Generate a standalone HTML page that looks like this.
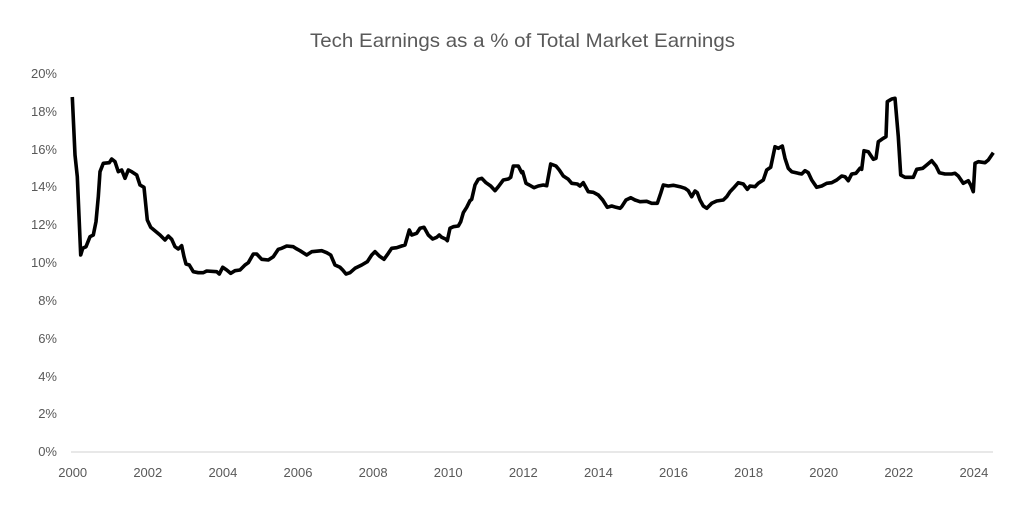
<!DOCTYPE html>
<html><head><meta charset="utf-8"><style>
html,body{margin:0;padding:0;background:#fff;}
svg{display:block;}
text{font-family:"Liberation Sans",sans-serif;fill:#595959;}
</style></head><body>
<svg width="1024" height="508" viewBox="0 0 1024 508" xmlns="http://www.w3.org/2000/svg">
<rect width="1024" height="508" fill="#fff"/>
<text x="522.5" y="47" font-size="19.5" text-anchor="middle" textLength="425" lengthAdjust="spacingAndGlyphs">Tech Earnings as a % of Total Market Earnings</text>
<g font-size="13" text-anchor="end">
<text x="57" y="78">20%</text>
<text x="57" y="116">18%</text>
<text x="57" y="154">16%</text>
<text x="57" y="191">14%</text>
<text x="57" y="229">12%</text>
<text x="57" y="267">10%</text>
<text x="57" y="305">8%</text>
<text x="57" y="343">6%</text>
<text x="57" y="381">4%</text>
<text x="57" y="418">2%</text>
<text x="57" y="456">0%</text>
</g>
<g font-size="13" text-anchor="middle">
<text x="72.7" y="477">2000</text>
<text x="147.8" y="477">2002</text>
<text x="222.9" y="477">2004</text>
<text x="298" y="477">2006</text>
<text x="373.1" y="477">2008</text>
<text x="448.2" y="477">2010</text>
<text x="523.3" y="477">2012</text>
<text x="598.4" y="477">2014</text>
<text x="673.5" y="477">2016</text>
<text x="748.6" y="477">2018</text>
<text x="823.7" y="477">2020</text>
<text x="898.8" y="477">2022</text>
<text x="973.9" y="477">2024</text>
</g>
<line x1="71" y1="452" x2="993" y2="452" stroke="#d9d9d9" stroke-width="1.3"/>
<polyline fill="none" stroke="#000" stroke-width="3.6" stroke-linejoin="round" stroke-linecap="butt" points="
72.3,97 75,155 77.3,176.7 80.7,255 82.7,248.3 86,246.7 90,236.7 93.3,235 96,221.7 98.3,196.7 100,171.7 103.3,163.3 109.3,162.7 111.7,159 115,161.7 118.3,171.7 121.7,170 125,178.3 128.3,170 131.7,171.7 136.7,175 140,185 144,187.3 147.3,220 150.7,227.3 160,235 165,240 168.3,236 171.7,239.3 175,246.7 178.3,249 181.7,245.7 184,256.7 186,264 189.3,265 193.3,271.7 198.3,272.7 203.3,272.7 206.7,271 216.7,271.7 219.3,274 222.7,267.3 226.7,270 230.7,273.3 235,270.7 240,270 245,265 248.3,262.7 253.3,254 256.7,254 261.7,259.3 268.3,260 273.3,256.7 278.3,249.3 281.7,248.3 286.7,246 293.3,246.7 296,248.5 300,250.7 306.7,255 311.7,251.7 321.7,250.7 326.7,252.7 330.7,255 335,265 340,267.3 342.7,270 346,274 350,272.7 355,268.3 361.7,265 367.3,261.7 371.7,255 375,251.7 379.3,256 384,259.3 388.3,253.3 391.7,248.3 396.7,247.7 401.7,246 405,245 409.3,230 411.7,235 416.7,233.3 420,228.3 424,227.3 428.3,235 432.7,239 436.7,237.3 439.3,235 441.7,237.3 446,239.3 447.3,240.7 450,228.3 453.3,226.7 458.3,226 460.7,221.7 463.3,212.7 466.7,207.3 470,200.7 471.7,199.3 475,185 478.3,179.3 481.7,178.3 486,182.7 490.7,186 495,190.7 498.3,186.7 503.3,180 508.3,179 510.7,177.3 513.3,166 518.3,166 521.7,172.7 522.7,171.7 526,183.3 529.3,185 534,187.7 538.3,186 543.3,185 546.7,185.7 550.7,164 556,166 559.3,170 563.3,176 568.3,179.3 571.7,183.3 577.3,184 580,186 583.3,182.7 588.3,191.7 593.3,192.3 598.3,195 602.7,200 607.3,207.3 611.7,206 616,207.3 620,208.3 621.7,206.7 626,200 630.7,197.7 635,200 640,201.7 646.7,201.3 651.7,203.3 657.3,203.3 660.7,193.3 663.3,185 668.3,186 673.3,185.3 680,186.7 685,188.3 688.3,190.7 691.7,196.7 695,191 697.3,192.7 700,200 703.3,206 706.7,208.3 711.7,203.3 716.7,201 723.3,200 726.7,196.7 730,191.7 733.3,188.3 738.3,182.7 743.3,184 747.3,189.3 750,186 755,186.7 758.3,183.3 763.3,180 766.7,170 770.7,167.3 775,146.7 778.3,148.3 782.3,146 785,158.3 788.3,168.3 791.7,171.7 798.3,173.3 801.7,174 805,170.7 808.3,172.7 811.7,180 816.7,187.3 821.7,186 826.7,183.3 831.7,182.7 836.7,180 841.7,176 845,176.7 848.3,180.7 851.7,174 856,173.3 860,168.3 861.7,169.3 864,150.7 868.3,151.7 873.3,159.3 876,158.3 878.3,141.7 883.3,138.3 886,136.7 887.3,101.7 891.7,99 895,98.3 898.3,136.7 900.7,175 905,177.3 913.3,177.3 916.7,169.3 922.7,168.3 926.7,165 931.7,160.7 936,166 939.3,172.7 945,174 951.7,174 955,173.3 958.3,176 963.3,183.3 968.3,180.7 970.7,185 973.3,191.7 975,163.3 978.3,161.7 985,162.7 988.3,160 993.3,152.7"/>
</svg>
</body></html>
